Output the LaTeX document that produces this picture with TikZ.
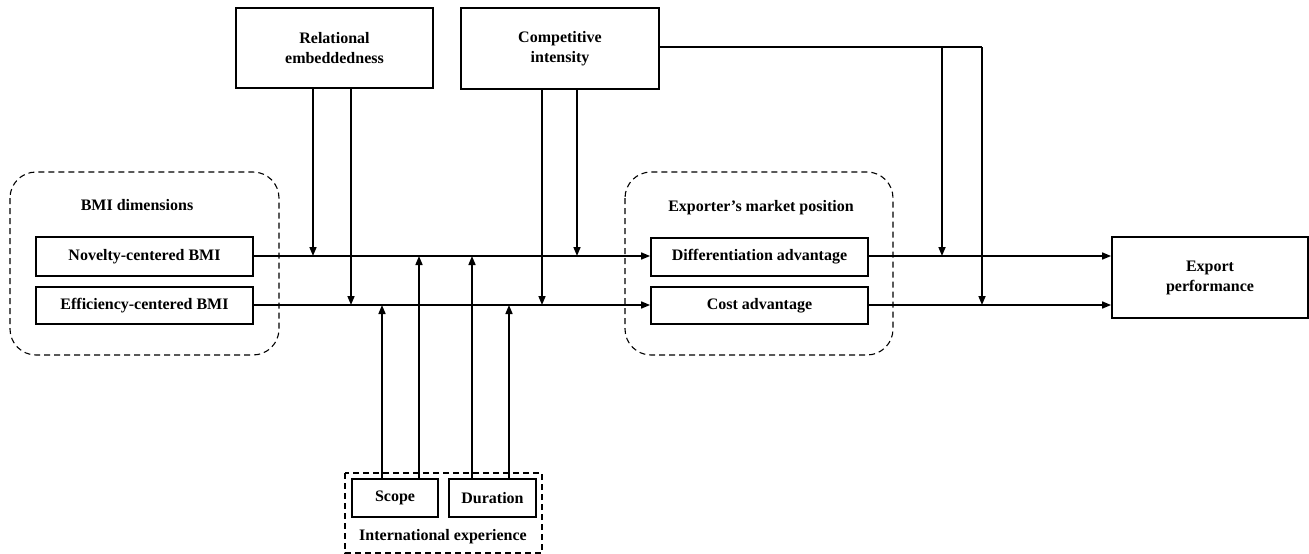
\documentclass[tikz,border=0pt]{standalone}
\usepackage{fontspec}
\setmainfont{Liberation Serif}
\usetikzlibrary{arrows.meta}
\begin{document}
\begin{tikzpicture}[x=1pt,y=-1pt,
  box/.style={draw,line width=1.8pt,rectangle,inner sep=0pt,font=\fontsize{16}{20}\selectfont\bfseries,align=center},
  grp/.style={draw,line width=1.1pt,dash pattern=on 6pt off 4pt,rounded corners=26pt},
  lbl/.style={font=\fontsize{16}{20}\selectfont\bfseries,align=center,inner sep=0pt},
  ln/.style={line width=1.6pt},
  arr/.style={line width=1.6pt,-{Triangle[length=9pt,width=7pt]}}]
\useasboundingbox (0,0) rectangle (1309,554);
\fill[white] (0,0) rectangle (1309,554);
% groups
\draw[grp] (10,172) rectangle (279,355);
\draw[grp] (625,172) rectangle (893,355);
\draw[line width=1.8pt,dash pattern=on 6pt off 4pt] (345,473) rectangle (542,553);
\node[lbl] (bmil) at (137,205) {BMI dimensions};
\node[lbl] (empl) at (761,208) {Exporter’s market position};
\node[lbl] (iel) at (443,537) {International experience};
% boxes
\node[box,minimum width=197pt,minimum height=80pt] (re) at (334.5,48) {Relational\\embeddedness};
\node[box,minimum width=198pt,minimum height=81pt] (ci) at (560,48.5) {Competitive\\intensity};
\node[box,minimum width=217pt,minimum height=39pt] (nov) at (144.5,256.5) {Novelty-centered BMI};
\node[box,minimum width=217pt,minimum height=37pt] (eff) at (144.5,305.5) {Efficiency-centered BMI};
\node[box,minimum width=217pt,minimum height=38pt] (dif) at (759.5,257) {Differentiation advantage};
\node[box,minimum width=217pt,minimum height=37pt] (cost) at (759.5,305.5) {Cost advantage};
\node[box,minimum width=196pt,minimum height=81pt] (exp) at (1210,277.5) {Export\\performance};
\node[box,minimum width=86pt,minimum height=38pt] (sc) at (395,498) {Scope};
\node[box,minimum width=87pt,minimum height=38pt] (du) at (492.5,498) {Duration};
% main paths
\draw[arr] (nov.east |- 0,256) -- (dif.west |- 0,256);
\draw[arr] (eff.east |- 0,305) -- (cost.west |- 0,305);
\draw[arr] (dif.east |- 0,256) -- (exp.west |- 0,256);
\draw[arr] (cost.east |- 0,305) -- (exp.west |- 0,305);
% moderators from top
\coordinate (r1) at (313,256);
\coordinate (r2) at (351,305);
\coordinate (c1) at (542,305);
\coordinate (c2) at (577,256);
\draw[arr] (re.south -| r1) -- (r1);
\draw[arr] (re.south -| r2) -- (r2);
\draw[arr] (ci.south -| c1) -- (c1);
\draw[arr] (ci.south -| c2) -- (c2);
\coordinate (t1) at (942,47);
\coordinate (t2) at (982,47);
\coordinate (e1) at (942,256);
\coordinate (e2) at (982,305);
\draw[ln] (ci.east |- t2) -- (t2);
\draw[arr] (t2) -- (e2);
\draw[arr] (t1) -- (e1);
% moderators from bottom
\coordinate (s1) at (382,305);
\coordinate (s2) at (419,256);
\coordinate (d1) at (472,256);
\coordinate (d2) at (509,305);
\draw[arr] (sc.north -| s1) -- (s1);
\draw[arr] (sc.north -| s2) -- (s2);
\draw[arr] (du.north -| d1) -- (d1);
\draw[arr] (du.north -| d2) -- (d2);
\end{tikzpicture}
\end{document}
